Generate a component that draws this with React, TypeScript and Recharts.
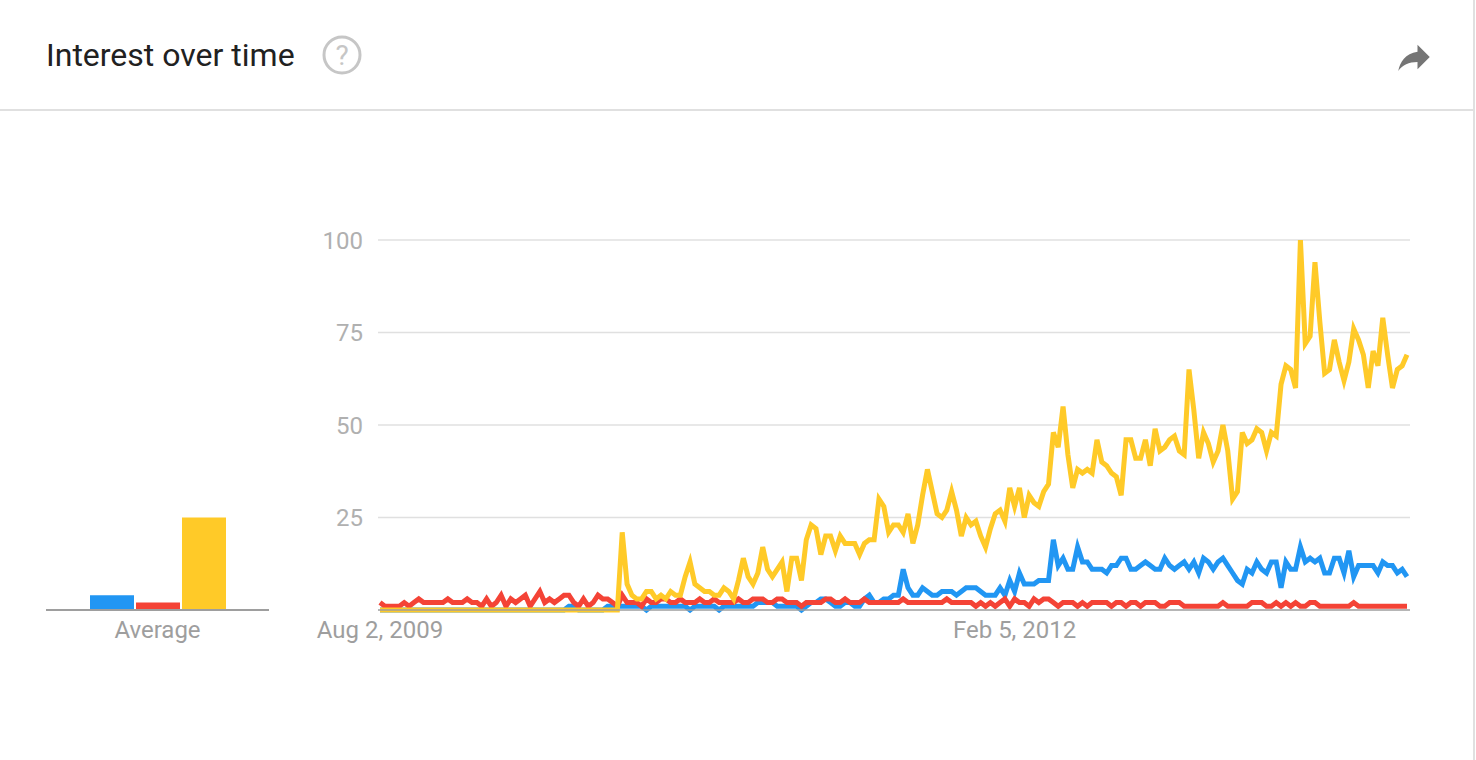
/**
 * Interest over time — weekly search interest, three terms, Google Trends style
 */
import { LineChart, Line, BarChart, Bar, XAxis, YAxis, CartesianGrid } from "recharts";

const BLUE = "#2196f3";
const RED = "#f44336";
const YELLOW = "#ffca28";

// weekly points, first week Aug 2, 2009
const START_DATE = Date.UTC(2009, 7, 2);
const MONTHS = ["Jan", "Feb", "Mar", "Apr", "May", "Jun", "Jul", "Aug", "Sep", "Oct", "Nov", "Dec"];

const blueValues = [
  0, 0, 0, 0, 0, 0, 0, 0, 0, 0, 0, 0, 0, 0, 0, 0, 0, 0, 0, 0,
  0, 0, 0, 0, 0, 0, 0, 0, 0, 0, 0, 0, 0, 0, 0, 0, 0, 0, 0, 1,
  1, 0, 0, 0, 0, 0, 0, 1, 1, 1, 1,
  1, 1, 1, 1, 0, 1, 1, 1, 1, 1, 1, 1, 1, 0, 1, 1, 1, 1, 1, 0, 1, 1, 1, 1, 1,
  1, 1, 2, 2, 2, 2, 1, 1, 1, 1, 1, 0, 1,
  2, 2, 3, 3, 2, 1, 1, 2, 2, 1, 1, 3, 4, 2, 2, 3, 3, 4, 4,
  11, 6, 4, 4, 6, 5, 4, 4, 5, 5, 5, 4, 5, 6, 6, 6, 5, 4, 4, 4, 6, 4,
  8, 5, 10, 7, 7, 7, 8, 8, 8, 19,
  12, 14, 11, 11, 17, 13, 13, 11, 11, 11,
  10, 12, 12, 14, 14, 11, 11, 12, 13, 12,
  11, 11, 14, 12, 11, 12, 13, 11, 13, 10,
  14, 13, 11, 13, 14, 12, 10, 8, 7, 11,
  10, 13, 11, 10, 13, 13, 6, 13, 11, 11,
  17, 13, 14, 13, 14, 10, 10, 14, 14, 10,
  16, 9, 12, 12, 12, 12, 10, 13, 12, 12,
  10, 11, 9,
];

const redValues = [
  2, 1, 1, 1, 1, 2, 1, 2, 3, 2, 2, 2, 2, 2, 3, 2, 2, 2, 3, 2,
  2, 1, 3, 1, 2, 4, 1, 3, 2, 3, 4, 1, 3, 5, 2, 3, 2, 3, 4, 4,
  2, 1, 3, 1, 2, 4, 3, 3, 2, 1, 4,
  2, 2, 2, 1, 3, 2, 2, 3, 3, 2, 2, 3, 2, 2, 2, 3, 2, 2, 3, 2,
  2, 2, 2, 3, 2, 2, 3, 3, 3, 2, 2, 3, 3, 2, 2, 2, 1, 2, 2, 2,
  2, 3, 3, 2, 2, 3, 2, 2, 2, 3, 2, 2, 2, 2, 2, 2, 2,
  3, 2, 2, 2, 2, 2, 2, 2, 2, 3, 2, 2, 2, 2, 2, 1, 2, 1, 2, 1,
  2, 3, 1, 3, 2, 2, 1, 3, 2, 3, 3, 2, 1, 2, 2, 2, 1, 2, 1, 2,
  2, 2, 2, 1, 2, 2, 1, 2, 2, 1, 2, 2, 2, 1, 1, 2, 2, 2, 1, 1,
  1, 1, 1, 1, 1, 1, 2, 1,
  1, 1, 1, 1, 2, 2, 2, 1, 1, 2, 1, 2, 1, 2, 1, 1, 2, 2, 1, 1,
  1, 1, 1, 1, 1, 2, 1, 1, 1, 1, 1, 1, 1, 1, 1, 1, 1,
];

const yellowValues = [
  0, 0, 0, 0, 0, 0, 0, 0, 0, 0, 0, 0, 0, 0, 0, 0, 0, 0, 0, 0,
  0, 0, 0, 0, 0, 0, 0, 0, 0, 0, 0, 0, 0, 0, 0, 0, 0, 0, 0, 0,
  0, 0, 0, 0, 0, 0, 0, 0, 0, 0,
  21, 7, 4, 3, 3, 5, 5, 3, 4, 3, 5, 4, 4, 9, 13, 7, 6, 5, 5, 4,
  4, 6, 5, 3, 8, 14, 9, 7, 10, 17, 11, 9, 11, 13, 5, 14, 14, 8, 19,
  23, 22, 15, 20, 20, 16, 20, 18, 18, 18,
  15, 18, 19, 19, 30, 28, 21, 23, 23, 21,
  26, 18, 23, 31, 38, 32, 26, 25, 27, 32,
  27, 20, 25, 23, 24, 20, 17, 22, 26, 27,
  24, 33, 28, 33, 25, 31, 29, 28, 32, 34,
  48, 44, 55, 42, 33, 38, 37, 38, 37, 46,
  40, 39, 37, 36, 31, 46, 46, 41, 41, 46,
  39, 49, 43, 44, 46, 47, 43, 42, 65, 54,
  41, 48, 45, 40, 43, 50, 43, 30, 32, 48,
  45, 46, 49, 48, 43, 48, 47, 61, 66, 65,
  60, 100, 72, 74, 94, 78, 64, 65, 73, 67,
  62, 67, 76, 73, 69, 60, 70, 66, 79, 69,
  60, 65, 66, 69,
];

const averageValues = [4, 2, 25];
const yTicks = [0, 25, 50, 75, 100];
const xTicks = ["Aug 2, 2009", "Feb 5, 2012"];

const weekLabel = (i: number) => {
  const d = new Date(START_DATE + i * 7 * 86400000);
  return `${MONTHS[d.getUTCMonth()]} ${d.getUTCDate()}, ${d.getUTCFullYear()}`;
};

const data = yellowValues.map((v, i) => ({
  week: weekLabel(i),
  blue: blueValues[i],
  red: redValues[i],
  yellow: v,
}));

const avgData = [{ label: "Average", blue: averageValues[0], red: averageValues[1], yellow: averageValues[2] }];

function HelpIcon() {
  return (
    <svg width="44" height="44" viewBox="0 0 44 44" style={{ position: "absolute", left: 320, top: 33 }}>
      <circle cx="22" cy="22" r="18" fill="none" stroke="#c6c6c6" strokeWidth="3" />
      <text x="22" y="32" textAnchor="middle" fontSize="28" fontFamily="Roboto" fill="#c6c6c6">?</text>
    </svg>
  );
}

function ShareIcon() {
  return (
    <svg width="42" height="42" viewBox="0 0 24 24" style={{ position: "absolute", left: 1393, top: 36 }}>
      <path d="M14 9V5l7 7-7 7v-4.1c-5 0-8.5 1.6-11 5.1 1-5 4-10 11-11z" fill="#757575" />
    </svg>
  );
}

export default function App() {
  return (
    <div
      style={{
        position: "absolute",
        left: 0,
        top: 0,
        width: 1476,
        height: 760,
        background: "#fff",
        fontFamily: "Roboto, sans-serif",
        overflow: "hidden",
      }}
    >
      <div style={{ position: "absolute", left: 46, top: 35, fontSize: 32, color: "#212121", lineHeight: "40px" }}>
        Interest over time
      </div>
      <HelpIcon />
      <ShareIcon />
      <div style={{ position: "absolute", left: 0, top: 109, width: 1474, height: 2, background: "#e0e0e0" }} />
      <div style={{ position: "absolute", left: 1473, top: 0, width: 2, height: 760, background: "#e0e0e0" }} />

      {/* average bars */}
      <div style={{ position: "absolute", left: 46, top: 240 }}>
        <BarChart width={223} height={420} data={avgData} margin={{ top: 0, right: 0, bottom: 20, left: 0 }} barGap={2} barSize={44}>
          <XAxis
            dataKey="label"
            height={30}
            axisLine={{ stroke: "#9e9e9e", strokeWidth: 2 }}
            tickLine={false}
            tickSize={6}
            tickMargin={5}
            tick={{ fontSize: 24, fill: "#9e9e9e" }}
          />
          <YAxis hide domain={[0, 100]} />
          <Bar dataKey="blue" fill={BLUE} isAnimationActive={false} />
          <Bar dataKey="red" fill={RED} isAnimationActive={false} />
          <Bar dataKey="yellow" fill={YELLOW} isAnimationActive={false} />
        </BarChart>
      </div>

      {/* main line chart */}
      <div style={{ position: "absolute", left: 0, top: 0 }}>
        <LineChart width={1476} height={760} data={data} margin={{ top: 240, right: 66, bottom: 120, left: 318 }}>
          <CartesianGrid vertical={false} stroke="#e0e0e0" strokeWidth={1.5} horizontalValues={[25, 50, 75, 100]} />
          <XAxis
            dataKey="week"
            height={30}
            ticks={xTicks}
            interval={0}
            padding={{ left: 2, right: 3 }}
            axisLine={{ stroke: "#9e9e9e", strokeWidth: 1.5 }}
            tickLine={false}
            tickSize={6}
            tickMargin={5}
            tick={{ fontSize: 24, fill: "#9e9e9e" }}
          />
          <YAxis
            width={60}
            domain={[0, 100]}
            ticks={yTicks}
            tickFormatter={(v: number) => (v === 0 ? "" : String(v))}
            axisLine={false}
            tickLine={false}
            tickSize={6}
            tickMargin={9}
            tick={{ fontSize: 24, fill: "#b0b0b0" }}
          />
          <Line type="linear" dataKey="blue" stroke={BLUE} strokeWidth={5} dot={false} isAnimationActive={false} />
          <Line type="linear" dataKey="red" stroke={RED} strokeWidth={5} dot={false} isAnimationActive={false} />
          <Line type="linear" dataKey="yellow" stroke={YELLOW} strokeWidth={5} dot={false} isAnimationActive={false} />
        </LineChart>
      </div>
    </div>
  );
}
